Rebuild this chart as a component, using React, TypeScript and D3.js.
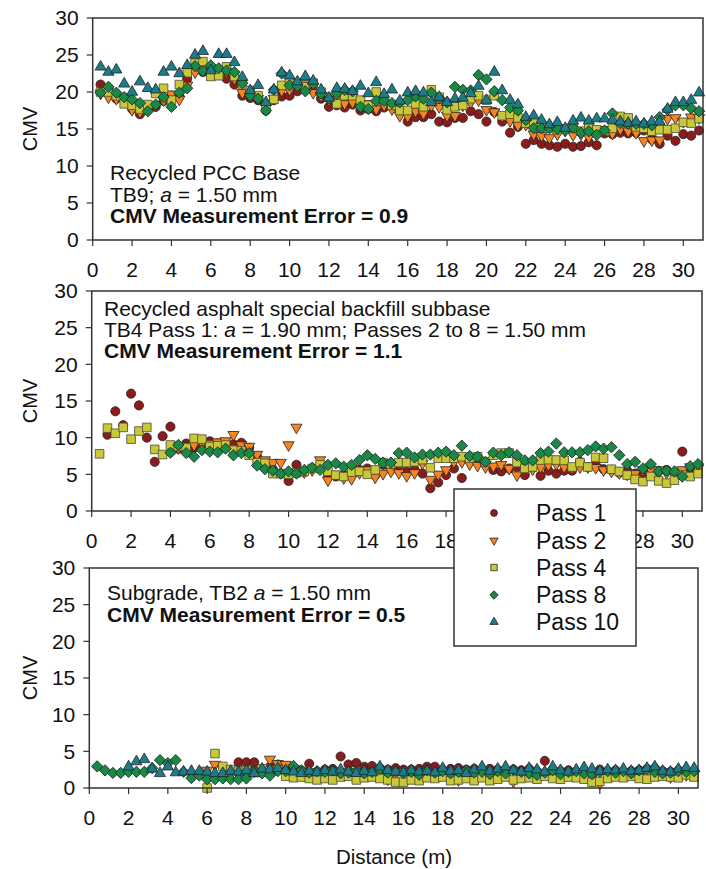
import * as d3 from 'd3';

// distance stations (m), same grid for all three strips
const distance = [
  0.4, 0.8, 1.2, 1.6, 2.0, 2.4, 2.8, 3.2, 3.6, 4.0, 4.4, 4.8, 5.2, 5.6, 6.0, 6.4, 6.8, 7.2, 7.6, 8.0,
  8.4, 8.8, 9.2, 9.6, 10.0, 10.4, 10.8, 11.2, 11.6, 12.0, 12.4, 12.8, 13.2, 13.6, 14.0, 14.4, 14.8, 15.2, 15.6,
  16.0, 16.4, 16.8, 17.2, 17.6, 18.0, 18.4, 18.8, 19.2, 19.6, 20.0, 20.4, 20.8, 21.2, 21.6, 22.0, 22.4, 22.8,
  23.2, 23.6, 24.0, 24.4, 24.8, 25.2, 25.6, 26.0, 26.4, 26.8, 27.2, 27.6, 28.0, 28.4, 28.8, 29.2, 29.6, 30.0,
  30.4, 30.8,
];

const passNames = ['Pass 1', 'Pass 2', 'Pass 4', 'Pass 8', 'Pass 10'];
const passColors = ['#8c1b1b', '#f7841f', '#c8c83a', '#178a48', '#1b7c8a'];

const xTicks = [0, 2, 4, 6, 8, 10, 12, 14, 16, 18, 20, 22, 24, 26, 28, 30];
const yTicks = [0, 5, 10, 15, 20, 25, 30];

type V = number | null;
const _ = null;

// --- Recycled PCC Base (TB9)
const pccPass1: V[] = [21.0, 20.5, 19.1, 19.2, 17.7, 17.0, 17.6, 18.0, 18.8, 19.5, 19.4, 21.8, 23.2, 22.7, 23.0, 22.3, 21.8, 21.0, 19.5, 19.2,
  18.9, 17.5, 18.9, 19.4, 19.5, 20.1, 20.6, 20.2, 19.1, 18.0, 18.2, 17.9, 18.3, 17.5, 17.7, 17.4, 17.9, 18.0, 17.5,
  16.0, 16.6, 16.6, 17.0, 16.0, 15.9, 16.5, 16.5, 17.4, 17.0, 16.0, 17.3, 16.0, 14.5, 15.3, 13.0, 13.5, 13.0, 12.8, 12.6,
  13.0, 12.6, 12.7, 13.2, 12.8, 14.4, 14.3, 14.5, 14.4, 14.5, 14.8, 13.6, 13.0, 14.1, 13.4, 14.3, 14.1, 14.8];
const pccPass2: V[] = [19.8, 19.3, 19.1, 18.9, 17.6, 17.3, 17.7, 18.2, 18.9, 19.7, 19.0, 20.9, 22.7, 23.2, 23.2, 22.5, 22.7, 21.8, 19.9, 19.4,
  19.1, 18.0, 19.1, 20.2, 20.3, 20.9, 21.1, 19.9, 19.5, 18.9, 19.3, 18.4, 18.6, 18.0, 18.4, 17.7, 18.2, 17.7, 16.8,
  16.7, 17.4, 17.1, 18.2, 18.0, 16.8, 16.8, 18.2, 18.6, 18.9, 17.6, 17.3, 16.7, 16.1, 15.5, 15.6, 14.3, 14.1, 13.8, 14.3,
  14.8, 14.2, 14.3, 13.9, 14.4, 14.9, 14.4, 15.0, 14.7, 14.5, 13.4, 13.5, 13.5, 16.4, 16.5, 16.0, 16.6, 16.5];
const pccPass4: V[] = [20.0, 20.0, 19.5, 18.4, 18.2, 17.7, 18.3, 19.8, 20.5, 18.9, 21.0, 22.6, 23.9, 24.1, 22.1, 22.2, 23.4, 22.1, 21.1, 20.2,
  19.5, 18.2, 19.0, 20.9, 21.4, 21.1, 20.7, 21.2, 20.0, 19.3, 18.4, 19.5, 19.5, 18.9, 18.2, 20.0, 18.9, 18.2, 17.5,
  17.5, 18.4, 18.0, 20.3, 19.3, 17.6, 18.0, 18.2, 19.1, 19.5, 18.9, 19.5, 16.8, 17.0, 16.5, 15.8, 15.9, 15.5, 15.1, 14.9,
  15.0, 15.1, 14.7, 15.3, 14.9, 14.7, 15.1, 16.7, 16.5, 15.3, 15.1, 14.7, 14.9, 14.9, 15.1, 15.9, 15.8, 16.4];
const pccPass8: V[] = [19.9, 20.7, 19.9, 19.3, 19.0, 18.5, 17.4, 18.3, 19.3, 18.0, 19.9, 20.5, 23.5, 22.8, 23.6, 23.2, 22.9, 22.7, 21.2, 19.5,
  19.1, 17.5, 20.3, 22.5, 20.9, 20.8, 20.1, 21.1, 19.8, 19.1, 19.8, 20.3, 20.1, 18.0, 17.7, 18.8, 18.8, 18.5, 18.6,
  18.9, 19.4, 19.1, 19.9, 19.2, 18.6, 20.7, 20.3, 20.2, 22.3, 21.7, 20.1, 18.9, 17.9, 17.5, 16.2, 15.1, 15.1, 15.1, 15.0,
  14.8, 15.2, 14.5, 14.7, 14.2, 14.8, 17.1, 15.8, 15.7, 15.7, 15.7, 15.5, 16.6, 17.6, 18.2, 18.2, 17.8, 17.4];
const pccPass10: V[] = [23.4, 22.7, 23.0, 21.1, 20.0, 21.4, 20.5, 20.3, 22.7, 23.4, 22.5, 23.6, 25.0, 25.5, 22.9, 25.1, 25.1, 24.0, 22.0, 20.2,
  20.9, 18.6, 20.3, 22.6, 22.2, 21.4, 22.1, 21.5, 20.3, 19.2, 20.5, 20.4, 20.1, 20.8, 19.8, 21.3, 19.7, 20.3, 18.8,
  19.9, 20.1, 19.9, 18.6, 19.3, 18.6, 19.1, 19.2, 19.8, 20.8, 18.9, 22.7, 20.2, 18.9, 18.3, 16.6, 16.8, 16.2, 15.6, 15.9,
  15.1, 16.1, 16.5, 16.1, 16.4, 16.4, 16.2, 16.0, 15.8, 16.0, 15.7, 16.0, 16.0, 17.7, 18.6, 18.6, 18.9, 19.9];

// --- Recycled asphalt special backfill subbase (TB4)
const rapPass1: V[] = [_, 10.4, 13.6, 11.7, 16.0, 14.4, 10.0, 6.7, 10.2, 11.5, 8.5, 9.2, 8.6, 9.0, 9.5, 9.2, 9.1, 9.1, 9.3, 8.6,
  7.4, 6.6, 5.7, 5.1, 4.1, 6.3, 5.3, 5.8, 5.9, 4.9, 4.7, 4.9, 5.4, 5.6, 5.8, 4.9, 6.3, 5.7, 6.2,
  5.4, 5.6, 5.1, 3.1, 3.9, 4.9, 5.8, 4.5, 7.0, 7.0, 6.5, 5.6, 5.4, 5.8, 6.0, 4.9, 5.9, 4.8, 5.5, 5.1,
  5.5, 5.5, 6.7, 6.0, 6.3, 5.7, 5.6, 5.2, 5.5, 5.1, 4.7, 5.6, 5.4, 5.6, 5.2, 8.1, 5.4, 5.7];
const rapPass2: V[] = [_, _, _, _, _, _, _, _, _, _, 8.6, 8.9, 9.0, 9.3, 9.2, 9.4, 9.55, 10.4, 9.0, 8.8,
  7.7, 6.95, 6.6, 6.6, 9.0, 11.4, 5.3, 5.6, 6.95, 4.2, 5.0, 4.5, 4.4, 5.2, 5.6, 4.6, 5.1, 5.4, 5.2,
  4.8, 5.2, 6.5, 4.3, 5.0, 5.6, 6.7, 6.7, 6.4, 6.2, 6.0, 6.1, 6.3, 5.8, 4.9, 6.0, 5.7, 6.0, 6.3, 6.4,
  6.0, 5.9, 6.0, 6.0, 5.9, 5.6, 5.4, 5.2, 5.0, 5.1, 5.6, 5.6, 5.6, 5.2, 4.9, 5.6, 6.0, 5.8];
const rapPass4: V[] = [7.8, 11.3, 10.6, 11.4, 9.8, 10.9, 11.4, 8.4, 7.7, 9.0, 8.8, 8.6, 9.9, 9.8, 8.8, 8.9, 9.0, 8.3, 8.2, 7.6,
  6.6, 6.5, 5.1, 5.1, 5.0, 5.2, 5.4, 5.8, 6.3, 5.4, 4.9, 4.7, 5.3, 5.4, 5.0, 5.6, 6.6, 6.4, 6.6,
  6.6, 6.7, 7.0, 5.9, 7.2, 7.2, 7.2, 7.4, 7.2, 7.4, 6.7, 7.6, 7.9, 7.9, 6.6, 5.8, 6.0, 6.95, 7.0, 6.95,
  6.9, 6.0, 6.6, 6.0, 7.3, 7.2, 5.7, 5.4, 4.9, 4.3, 4.0, 4.7, 4.1, 3.8, 4.2, 4.9, 4.7, 5.1];
const rapPass8: V[] = [_, _, _, _, _, _, _, _, _, 7.95, 9.0, 7.9, 7.4, 8.3, 8.1, 8.0, 8.5, 7.6, 7.9, 7.9,
  6.2, 5.7, 5.5, 5.1, 5.4, 5.1, 5.6, 5.9, 5.6, 6.3, 6.5, 6.05, 6.3, 6.95, 7.6, 7.1, 6.6, 6.6, 7.9,
  7.95, 7.3, 7.7, 7.7, 7.95, 8.1, 7.6, 8.9, 7.5, 7.4, 6.7, 7.95, 7.6, 8.0, 7.6, 6.9, 6.9, 7.9, 8.1, 9.2,
  8.0, 8.0, 8.0, 8.3, 8.8, 8.5, 8.7, 7.6, 6.4, 6.7, 5.8, 6.4, 5.4, 5.5, 5.4, 4.7, 6.1, 6.4];

// --- Subgrade (TB2)
const subPass1: V[] = [_, _, _, _, _, _, _, _, _, _, _, _, _, _, _, _, _, _, 3.5, 3.5,
  3.5, 2.6, 2.9, 3.2, 2.6, 2.7, 2.4, 3.3, 2.2, 2.5, 2.6, 4.3, 3.2, 3.4, 2.9, 3.0, 2.7, 2.5, 2.7,
  2.5, 2.5, 2.6, 2.9, 2.9, 2.4, 2.6, 2.7, 2.5, 2.6, 2.4, 2.6, 2.5, 2.3, 2.5, 2.4, 2.6, 2.3, 3.7, 2.5,
  2.3, 2.4, 2.2, 2.3, 1.7, 2.5, 2.3, 2.4, 2.2, 2.3, 2.4, 2.6, 2.7, 2.3, 2.2, 2.4, 2.3, 2.2];
const subPass2: V[] = [_, _, _, _, _, _, _, _, _, _, _, _, _, _, 2.4, 3.2, 2.6, 2.3, 2.2, 2.5,
  2.3, 2.4, 3.9, 3.3, 3.2, 2.6, 2.3, 2.2, 2.0, 2.1, 2.3, 2.0, 2.2, 2.1, 2.0, 1.9, 2.1, 1.2, 1.9,
  2.2, 2.0, 2.1, 1.9, 2.0, 2.2, 1.9, 1.1, 2.0, 2.1, 1.9, 1.6, 2.0, 1.9, 0.9, 2.0, 2.1, 1.9, 2.0, 1.8,
  2.0, 1.9, 2.1, 1.9, 1.0, 0.6, 1.8, 2.0, 1.9, 2.0, 1.8, 2.0, 1.9, 2.1, 1.5, 2.0, 1.8, 1.9];
const subPass4: V[] = [_, _, _, _, _, _, _, _, _, _, _, _, _, _, 0.0, 4.7, 2.95, 2.5, 2.3, 2.4,
  2.1, 2.6, 2.3, 2.5, 1.6, 1.4, 1.5, 1.3, 1.1, 1.3, 1.1, 1.5, 1.6, 1.1, 1.4, 1.5, 1.3, 1.1, 0.8,
  0.8, 1.1, 1.0, 1.4, 1.3, 1.5, 1.0, 1.1, 1.3, 1.0, 1.4, 1.0, 1.2, 1.5, 1.1, 1.3, 1.4, 1.2, 1.6, 1.3,
  1.2, 1.5, 1.4, 1.2, 0.8, 0.9, 1.3, 1.5, 1.4, 1.6, 1.3, 1.2, 1.5, 1.6, 1.5, 1.4, 1.8, 1.5];
const subPass8: V[] = [2.95, 2.4, 2.05, 2.05, 2.2, 2.2, 2.2, 2.7, 3.8, 3.4, 3.8, 2.2, 1.35, 1.7, 1.2, 1.2, 1.3, 1.2, 1.2, 1.3,
  2.3, 2.0, 1.7, 2.3, 2.3, 3.0, 2.4, 2.1, 2.3, 2.2, 2.4, 2.0, 2.1, 2.3, 2.0, 2.2, 2.6, 2.1, 2.3,
  2.0, 2.2, 1.8, 2.4, 2.1, 2.3, 2.0, 2.2, 2.4, 2.1, 2.2, 1.9, 2.3, 2.0, 2.5, 2.2, 2.0, 1.8, 2.1, 2.4,
  1.9, 2.2, 2.3, 2.0, 1.9, 2.2, 2.3, 2.1, 2.3, 2.0, 2.4, 2.6, 2.2, 2.0, 2.1, 2.3, 2.2, 2.3];
const subPass10: V[] = [_, _, _, _, 2.9, 3.6, 3.9, 2.6, 2.0, 2.9, 2.1, 2.2, 2.3, 2.3, 2.2, 2.0, 2.0, 2.3, 2.2, 2.4,
  2.0, 2.6, 2.5, 2.7, 2.4, 2.2, 2.0, 2.3, 2.1, 2.4, 2.2, 2.5, 2.2, 2.0, 2.3, 2.1, 2.9, 2.4, 2.2,
  2.1, 2.4, 2.2, 2.3, 2.1, 2.7, 2.3, 2.4, 2.0, 2.5, 2.9, 2.3, 2.6, 2.9, 2.4, 2.2, 2.7, 2.5, 2.2, 2.9,
  2.4, 2.2, 2.5, 2.8, 2.6, 2.3, 2.5, 2.4, 2.6, 2.3, 2.4, 2.7, 2.9, 2.3, 2.2, 2.6, 2.8, 2.7];

const FONT = '"Liberation Sans", Arial, Helvetica, sans-serif';
const INK = '#222';
const TEXT = '#111';

type Line = { parts: { t: string; italic?: boolean }[]; bold?: boolean };
type Panel = {
  left: number; right: number; top: number; bottom: number;
  series: (V[] | null)[]; // index = pass
  noteX: number; noteY: number[]; notes: Line[];
};

const panels: Panel[] = [
  {
    left: 92.7, right: 703, top: 18, bottom: 240,
    series: [pccPass1, pccPass2, pccPass4, pccPass8, pccPass10],
    noteX: 110, noteY: [180, 201.5, 223],
    notes: [
      { parts: [{ t: 'Recycled PCC Base' }] },
      { parts: [{ t: 'TB9; ' }, { t: 'a', italic: true }, { t: ' = 1.50 mm' }] },
      { parts: [{ t: 'CMV Measurement Error = 0.9' }], bold: true },
    ],
  },
  {
    left: 91.7, right: 702, top: 291, bottom: 511,
    series: [rapPass1, rapPass2, rapPass4, rapPass8, null],
    noteX: 104, noteY: [316, 337, 358],
    notes: [
      { parts: [{ t: 'Recycled asphalt special backfill subbase' }] },
      { parts: [{ t: 'TB4 Pass 1: ' }, { t: 'a', italic: true }, { t: ' = 1.90 mm; Passes 2 to 8 = 1.50 mm' }] },
      { parts: [{ t: 'CMV Measurement Error = 1.1' }], bold: true },
    ],
  },
  {
    left: 89.3, right: 698, top: 568, bottom: 788,
    series: [subPass1, subPass2, subPass4, subPass8, subPass10],
    noteX: 107, noteY: [600, 622],
    notes: [
      { parts: [{ t: 'Subgrade, TB2 ' }, { t: 'a', italic: true }, { t: ' = 1.50 mm' }] },
      { parts: [{ t: 'CMV Measurement Error = 0.5' }], bold: true },
    ],
  },
];

// marker path for each pass
function markerPath(pass: number, scale = 1): string {
  const gen = d3.symbol();
  if (pass === 0) return gen.type(d3.symbolCircle).size(66 * scale)()!;
  if (pass === 1 || pass === 4) return gen.type(d3.symbolTriangle).size(54 * scale)()!;
  return gen.type(d3.symbolSquare).size((pass === 2 ? 74 : 64) * scale)()!;
}
function markerRotate(pass: number) {
  if (pass === 1) return 180;
  if (pass === 3) return 45;
  return 0;
}

function Strip({ p }: { p: Panel }) {
  const x = d3.scaleLinear().domain([0, 31]).range([p.left, p.right]);
  const y = d3.scaleLinear().domain([0, 30]).range([p.bottom, p.top]);
  const midY = (p.top + p.bottom) / 2;
  return (
    <g>
      {p.series.map((vals, pass) =>
        vals ? (
          <g key={pass}>
            {vals.map((v, i) =>
              v == null ? null : (
                <path
                  key={i}
                  d={markerPath(pass)}
                  transform={`translate(${x(distance[i])},${y(v)}) rotate(${markerRotate(pass)})`}
                  fill={passColors[pass]}
                  stroke={pass === 2 ? '#4a4a30' : INK}
                  strokeWidth={0.8}
                />
              ),
            )}
          </g>
        ) : null,
      )}
      <rect x={p.left} y={p.top} width={p.right - p.left} height={p.bottom - p.top}
        fill="none" stroke="#333" strokeWidth={1.5} />
      {xTicks.map((t) => (
        <g key={t} transform={`translate(${x(t)},${p.bottom})`}>
          <line y2={6} stroke="#333" strokeWidth={1.2} />
          <text y={37} textAnchor="middle" fontSize={21} fill={TEXT}>{t}</text>
        </g>
      ))}
      {yTicks.map((t) => (
        <g key={t} transform={`translate(${p.left},${y(t)})`}>
          <line x2={-6} stroke="#333" strokeWidth={1.2} />
          <text x={-14} dy="0.35em" textAnchor="end" fontSize={21} fill={TEXT}>{t}</text>
        </g>
      ))}
      <text transform={`translate(37,${midY}) rotate(-90)`} textAnchor="middle" fontSize={20} fill={TEXT}>CMV</text>
      {p.notes.map((ln, i) => (
        <text key={i} x={p.noteX} y={p.noteY[i]} fontSize={21} fontWeight={ln.bold ? 'bold' : 'normal'} fill={TEXT}>
          {ln.parts.map((pt, j) => (
            <tspan key={j} fontStyle={pt.italic ? 'italic' : 'normal'}>{pt.t}</tspan>
          ))}
        </text>
      ))}
    </g>
  );
}

function Legend() {
  const lx = 454, ly = 489, w = 182, h = 157;
  const rowY = [513, 540.5, 567.5, 595, 622];
  return (
    <g>
      <rect x={lx} y={ly} width={w} height={h} fill="#fff" stroke="#333" strokeWidth={1.5} />
      {passNames.map((name, i) => (
        <g key={name}>
          <path d={markerPath(i, 0.55)} transform={`translate(494,${rowY[i]}) rotate(${markerRotate(i)})`}
            fill={passColors[i]} stroke={INK} strokeWidth={0.8} />
          <text x={536} y={rowY[i]} dy="0.35em" fontSize={23} fill={TEXT}>{name}</text>
        </g>
      ))}
    </g>
  );
}

export default function App() {
  return (
    <svg width={706} height={869} style={{ position: 'absolute', left: 0, top: 0, background: '#fff' }}
      fontFamily={FONT}>
      {panels.map((p, i) => <Strip key={i} p={p} />)}
      <Legend />
      <text x={394} y={864} textAnchor="middle" fontSize={20.5} fill={TEXT}>Distance (m)</text>
    </svg>
  );
}
